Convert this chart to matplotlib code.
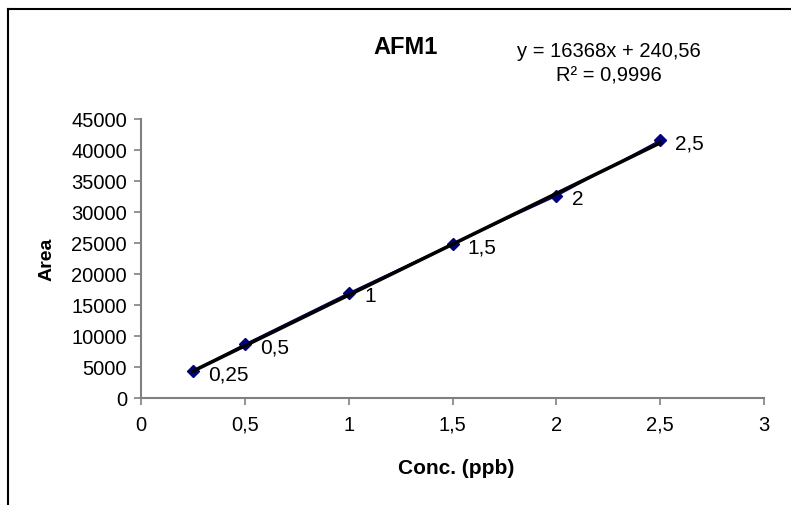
import matplotlib.pyplot as plt
from matplotlib.lines import Line2D
from matplotlib.ticker import FuncFormatter

plt.rcParams["font.family"] = ["Liberation Sans", "DejaVu Sans"]

conc = [0.25, 0.5, 1.0, 1.5, 2.0, 2.5]
area = [4350, 8700, 16950, 24850, 32550, 41600]
point_labels = ["0,25", "0,5", "1", "1,5", "2", "2,5"]
slope = 16368
intercept = 240.56
r2_text = "R² = 0,9996"
eq_text = "y = 16368x + 240,56"

fig = plt.figure(figsize=(7.91, 5.06), dpi=100)
ax = fig.add_axes([141 / 791, 1 - 399 / 506, (764 - 141) / 791, (399 - 120) / 506])

# data series and linear trendline
ax.plot(conc, area, color="#000080", lw=1, marker="D", ms=6.5, zorder=3)
fit_x = [conc[0], conc[-1]]
fit_y = [slope * x + intercept for x in fit_x]
ax.plot(fit_x, fit_y, color="black", lw=2.6, zorder=4)

for x, y, lab in zip(conc, area, point_labels):
    ax.annotate(lab, (x, y), xytext=(11, -2), textcoords="offset points",
                ha="left", va="center", fontsize=15)

ax.set_xlim(0, 3)
ax.set_ylim(0, 45000)
ax.set_xticks([0, 0.5, 1, 1.5, 2, 2.5, 3])
ax.set_yticks(range(0, 45001, 5000))
ax.xaxis.set_major_formatter(FuncFormatter(lambda v, p: f"{v:g}".replace(".", ",")))
ax.tick_params(labelsize=14.5, color="#808080", length=5, width=1.2)
ax.tick_params(axis="x", pad=7)
ax.tick_params(axis="y", pad=5)
for side in ("top", "right"):
    ax.spines[side].set_visible(False)
for side in ("left", "bottom"):
    ax.spines[side].set_color("#808080")
    ax.spines[side].set_linewidth(1.5)

ax.set_xlabel("Conc. (ppb)", fontsize=15, fontweight="bold")
ax.set_ylabel("Area", fontsize=14, fontweight="bold")
ax.xaxis.set_label_coords((456 - 141) / 623, -(469 - 399) / 279)
ax.yaxis.set_label_coords((47 - 141) / 623, 0.5)
ax.xaxis.label.set_va("center")
ax.yaxis.label.set_va("center")

fig.text(406 / 791, 1 - 47 / 506, "AFM1", fontsize=17, fontweight="bold",
         ha="center", va="center")
fig.text(609 / 791, 1 - 64 / 506, eq_text + "\n" + r2_text, fontsize=14.5,
         ha="center", va="center", linespacing=1.35)

# chart-area frame (top and left edges visible)
fig.add_artist(Line2D([8 / 791, 1.0], [1 - 10 / 506] * 2, color="black", lw=1.5,
                      transform=fig.transFigure))
fig.add_artist(Line2D([8 / 791] * 2, [0, 1 - 10 / 506], color="black", lw=1.5,
                      transform=fig.transFigure))

fig.savefig("out.png", dpi=100)
